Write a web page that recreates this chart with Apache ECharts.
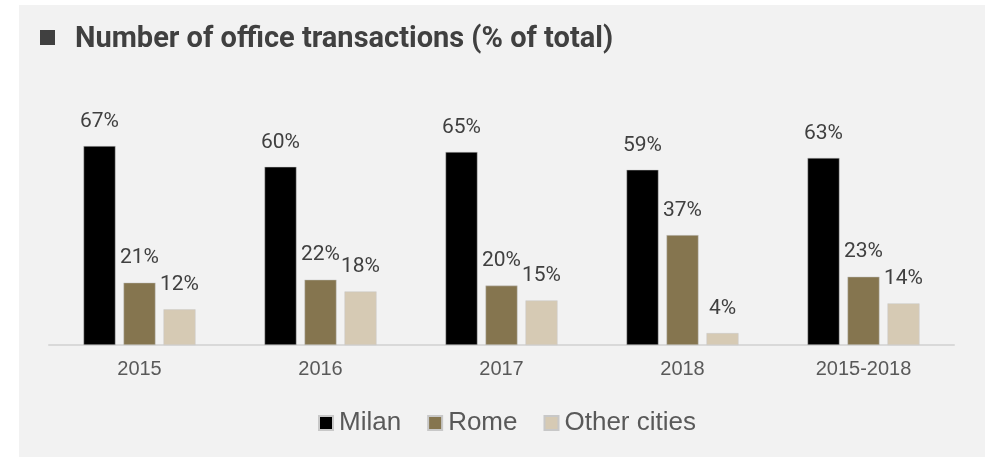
<!DOCTYPE html>
<html>
<head>
<meta charset="utf-8">
<script src="https://cdn.jsdelivr.net/npm/echarts@6/dist/echarts.min.js"></script>
<style>
  html, body { margin: 0; padding: 0; background: #ffffff; }
  #chart { width: 993px; height: 457px; }
</style>
</head>
<body>
<div id="chart"></div>
<script>
// Share of office transactions by city, per year
const categories = ['2015', '2016', '2017', '2018', '2015-2018'];
const milan = [67, 60, 65, 59, 63];
const rome = [21, 22, 20, 37, 23];
const otherCities = [12, 18, 15, 4, 14];

const seriesNames = ['Milan', 'Rome', 'Other cities'];
const seriesColors = ['#000000', '#85754f', '#d6cab4'];
const seriesData = [milan, rome, otherCities];

const chart = echarts.init(document.getElementById('chart'), null, { renderer: 'canvas' });

const labelStyle = {
  show: true,
  position: 'top',
  distance: 14,
  formatter: '{c}%',
  fontFamily: 'Roboto',
  fontSize: 21,
  color: '#404040'
};

chart.setOption({
  animation: false,
  backgroundColor: '#ffffff',
  graphic: [
    {
      type: 'rect',
      z: -10,
      shape: { x: 19, y: 5, width: 966, height: 452 },
      style: { fill: '#f2f2f2' },
      silent: true
    },
    {
      type: 'rect',
      shape: { x: 40, y: 30, width: 15, height: 15 },
      style: { fill: '#404040' },
      silent: true
    }
  ],
  title: {
    text: 'Number of office transactions (% of total)',
    left: 75,
    top: 25,
    padding: 0,
    textStyle: {
      fontFamily: 'Roboto',
      fontWeight: 'bold',
      fontSize: 29,
      color: '#404040'
    }
  },
  legend: {
    data: seriesNames,
    left: 318,
    top: 410,
    itemWidth: 14,
    itemHeight: 14,
    itemGap: 26,
    icon: 'rect',
    padding: 0,
    textStyle: {
      fontFamily: 'Liberation Sans',
      fontSize: 26,
      color: '#595959',
      padding: [0, 0, 0, 1]
    }
  },
  grid: { left: 49, right: 39, top: 48, bottom: 112 },
  xAxis: {
    type: 'category',
    data: categories,
    axisLine: { lineStyle: { color: '#d9d9d9', width: 2 } },
    axisTick: { show: false },
    axisLabel: {
      margin: 14,
      fontFamily: 'Liberation Sans',
      fontSize: 20,
      color: '#595959'
    }
  },
  yAxis: {
    type: 'value',
    min: 0,
    max: 100,
    show: false,
    splitLine: { show: false }
  },
  series: seriesNames.map((name, i) => ({
    name: name,
    type: 'bar',
    data: seriesData[i],
    barWidth: 32,
    barGap: '25%',
    itemStyle: { color: seriesColors[i], borderColor: '#c8c8c8', borderWidth: 0.5 },
    label: labelStyle
  }))
});
</script>
</body>
</html>
